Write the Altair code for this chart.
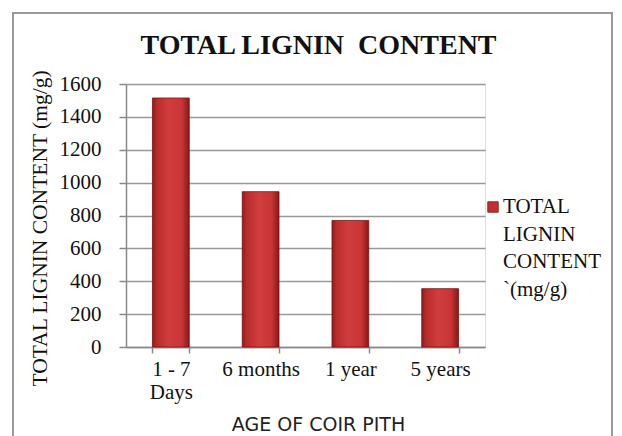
import altair as alt
import pandas as pd

categories = ["1 - 7 Days", "6 months", "1 year", "5 years"]
lignin = [1515, 945, 770, 355]
y_ticks = [0, 200, 400, 600, 800, 1000, 1200, 1400, 1600]

title_text = "TOTAL LIGNIN\u00a0 CONTENT"
y_title = "TOTAL LIGNIN CONTENT (mg/g)"
x_title = "AGE OF COIR PITH"
legend_text = "TOTAL\nLIGNIN\nCONTENT\n\u00a0`(mg/g)"

df = pd.DataFrame({"age": categories, "value": lignin})
one = pd.DataFrame({"k": [0]})

serif = "Liberation Serif"

x_enc = alt.X(
    "age:N",
    sort=categories,
    scale=alt.Scale(paddingInner=0.59, paddingOuter=0.295),
    axis=alt.Axis(
        title=x_title,
        titleFont="DejaVu Sans",
        titleFontSize=19,
        titleFontWeight="normal",
        titleColor="#222",
        titleX=192,
        titleY=77,
        titleAlign="center",
        titleBaseline="middle",
        labelFont=serif,
        labelFontSize=21,
        labelColor="#111",
        labelAngle=0,
        labelBaseline="top",
        labelPadding=5,
        labelLineHeight=23,
        labelExpr="datum.value == '1 - 7 Days' ? ['1 - 7', 'Days'] : datum.label",
        tickBand="extent",
        ticks=True,
        tickSize=6,
        tickColor="#888",
        tickWidth=1.5,
        domainColor="#888",
        domainWidth=1.5,
        grid=False,
    ),
)

y_enc = alt.Y(
    "value:Q",
    scale=alt.Scale(domain=[0, 1600], nice=False),
    axis=alt.Axis(
        values=y_ticks,
        format="d",
        title=y_title,
        titleFont=serif,
        titleFontSize=21.5,
        titleFontWeight="normal",
        titleColor="#111",
        titleAngle=270,
        titleX=-86,
        titleY=144,
        titleAlign="center",
        titleBaseline="middle",
        labelFont=serif,
        labelFontSize=21,
        labelColor="#111",
        labelPadding=18,
        tickSize=7,
        tickColor="#888",
        tickWidth=1.5,
        domainColor="#888",
        domainWidth=1.5,
        grid=True,
        gridColor="#999",
        gridWidth=1.5,
    ),
)

bars = alt.Chart(df).mark_bar(
    color=alt.Gradient(
        gradient="linear",
        x1=0, x2=1, y1=0, y2=0,
        stops=[
            alt.GradientStop(color="#8e1c1c", offset=0),
            alt.GradientStop(color="#b82c2c", offset=0.12),
            alt.GradientStop(color="#d23d3d", offset=0.45),
            alt.GradientStop(color="#c83535", offset=0.8),
            alt.GradientStop(color="#861818", offset=1),
        ],
    ),
    stroke="#7a1515",
    strokeWidth=0.8,
).encode(x=x_enc, y=y_enc)

legend_sq = alt.Chart(one).mark_square(
    size=110, color="#c03030", stroke="#7a1515", strokeWidth=0.8, opacity=1
).encode(x=alt.value(367), y=alt.value(123))

legend_txt = alt.Chart(one).mark_text(
    text=legend_text,
    lineBreak="\n",
    lineHeight=27.7,
    font=serif,
    fontSize=21,
    fontWeight="normal",
    color="#111",
    align="left",
    baseline="top",
).encode(x=alt.value(377), y=alt.value(112))

frame = alt.Chart(one).mark_rect(
    fill="transparent", stroke="#999", strokeWidth=2
).encode(
    x=alt.value(-113), x2=alt.value(486), y=alt.value(-71), y2=alt.value(420)
)

chart = (
    alt.layer(frame, bars, legend_sq, legend_txt)
    .properties(
        width=359,
        height=263,
        title=alt.TitleParams(
            text=title_text,
            font=serif,
            fontSize=28,
            fontWeight="bold",
            color="#111",
            anchor="middle",
            dx=13,
            dy=84,
            baseline="bottom",
            offset=8,
        ),
        autosize=alt.AutoSizeParams(type="none"),
        padding={"left": 118, "top": 76, "right": 129, "bottom": 89},
    )
    .configure_view(stroke=None)
    .configure(background="white")
)

chart.save("out.html", embed_options={"renderer": "svg", "actions": False})
